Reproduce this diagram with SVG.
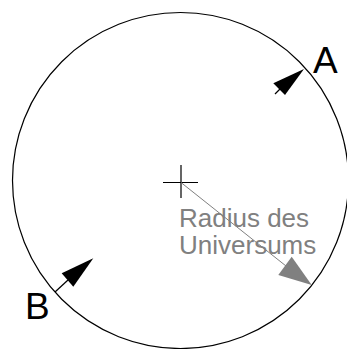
<svg xmlns="http://www.w3.org/2000/svg" width="347" height="349" viewBox="0 0 347 349">
<style>
.ln{fill:none;stroke:#000;stroke-width:1.2}
.gl{fill:none;stroke:#808080;stroke-width:1}
.ah{fill:#000;stroke:none}
.gah{fill:#808080;stroke:none}
.lbl{font-family:"Liberation Sans",Arial,sans-serif;font-size:37px;fill:#000}
.gt{font-family:"Liberation Sans",Arial,sans-serif;font-size:26px;fill:#808080}
</style>
<rect width="347" height="349" fill="#fff"/>
<g id="universe">
<circle class="ln" cx="180.5" cy="180.5" r="168"/>
<path class="ln" d="M163,182.5H198M181,165V198" stroke-width="1"/>
</g>
<g id="connectors">
<g id="arrowA">
<line class="ln" x1="280" y1="89" x2="275" y2="94"/>
<polygon class="ah" points="304,69 273.3,83.3 285,95"/>
</g>
<g id="arrowB">
<line class="ln" x1="68" y1="280" x2="55" y2="292"/>
<polygon class="ah" points="93.3,258.3 61.7,273.3 73.3,286.7"/>
</g>
<g id="radius">
<line class="gl" x1="181" y1="182.5" x2="286" y2="266"/>
<polygon class="gah" points="311.7,285 291.7,256.7 278.3,275"/>
</g>
</g>
<g id="labelA"><text class="lbl" x="313" y="73">A</text></g>
<g id="labelB"><text class="lbl" x="25" y="319">B</text></g>
<g id="labelRadius">
<text class="gt" x="179" y="226.5">Radius des</text>
<text class="gt" x="179" y="254">Universums</text>
</g>
</svg>
